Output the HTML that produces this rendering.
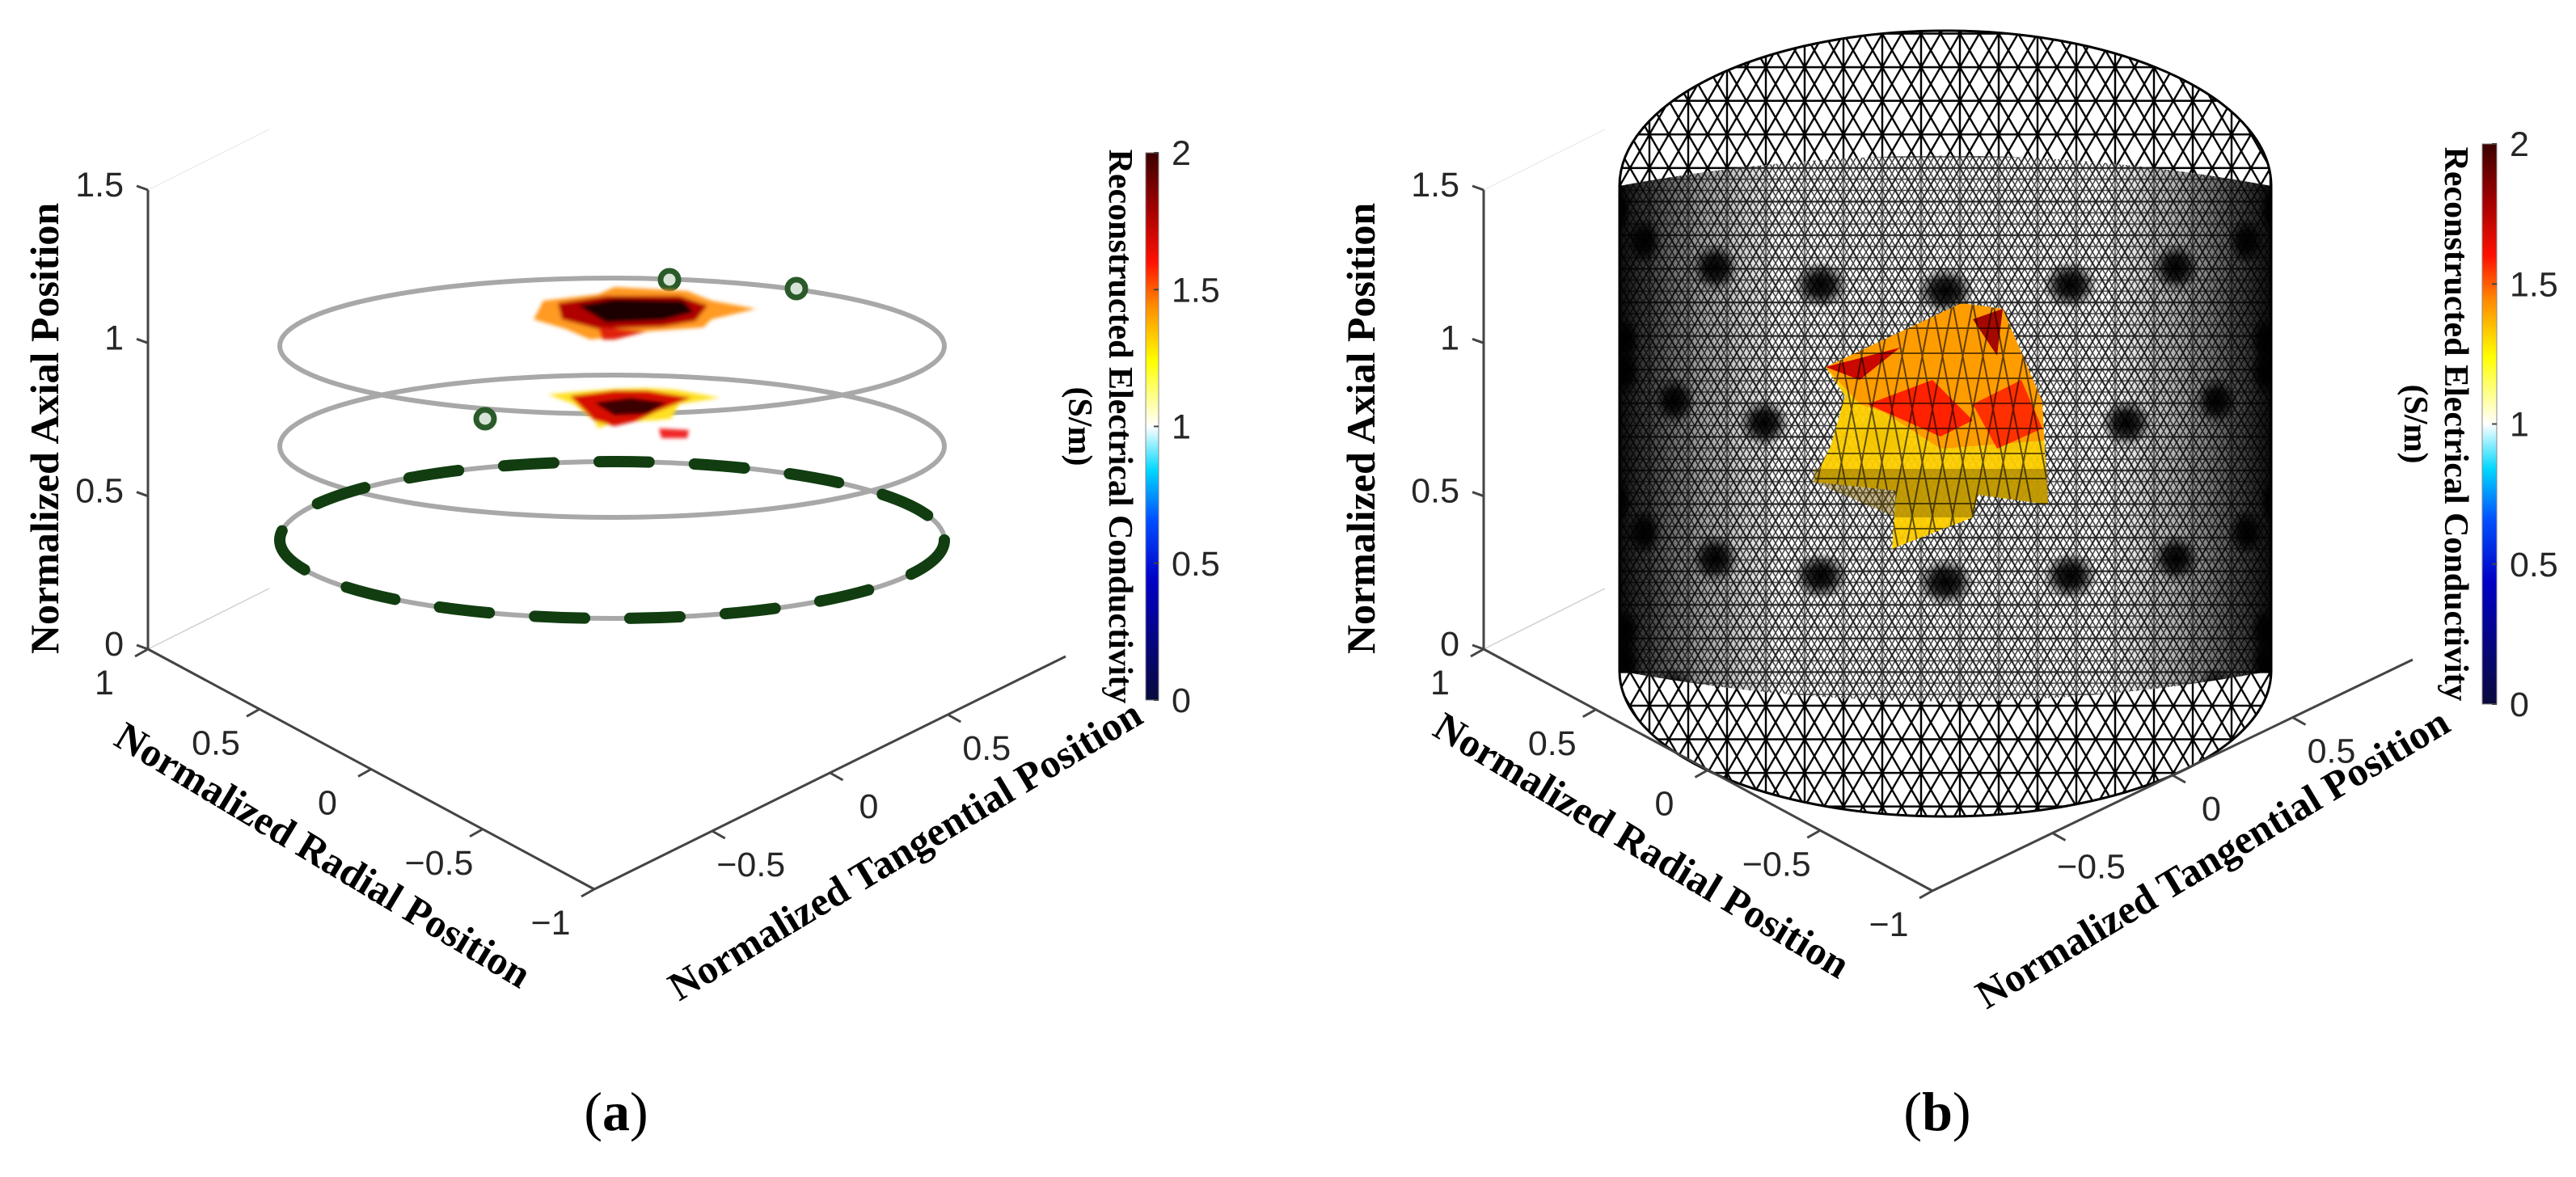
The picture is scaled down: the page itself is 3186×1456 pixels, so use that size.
<!DOCTYPE html>
<html><head><meta charset="utf-8"><style>
html,body{margin:0;padding:0;background:#fff}
svg{display:block}
.tk{font-family:"Liberation Sans",Arial,sans-serif;font-size:43px;fill:#262626}
.tt{font-family:"Liberation Serif","Times New Roman",serif;font-size:50px;font-weight:bold;fill:#000}
</style></head><body>
<svg id="fig" width="3186" height="1456" viewBox="0 0 3186 1456" xmlns="http://www.w3.org/2000/svg">
<defs>
<linearGradient id="cmap" x1="0" y1="1" x2="0" y2="0">
<stop offset="0" stop-color="#0a0a3c"/><stop offset="0.22" stop-color="#0000c8"/><stop offset="0.33" stop-color="#0050ff"/><stop offset="0.42" stop-color="#00d8ff"/><stop offset="0.5" stop-color="#ffffff"/><stop offset="0.62" stop-color="#ffff00"/><stop offset="0.72" stop-color="#ff8c00"/><stop offset="0.8" stop-color="#ff1000"/><stop offset="0.9" stop-color="#a00000"/><stop offset="1" stop-color="#3a0000"/>
</linearGradient>
<radialGradient id="dot"><stop offset="0" stop-color="#000" stop-opacity="1"/><stop offset="0.45" stop-color="#000" stop-opacity="0.85"/><stop offset="1" stop-color="#000" stop-opacity="0"/></radialGradient>
<filter id="blur"><feGaussianBlur stdDeviation="2.5"/></filter>
<pattern id="coarse" width="48" height="83.14" patternUnits="userSpaceOnUse">
<path d="M0 0H48M0 41.57H48M0 83.14H48M0 0L48 83.14M48 0L0 83.14M24 0L0 41.57L24 83.14M24 0L48 41.57L24 83.14M24 0V83.14" stroke="#000" stroke-width="2.4" fill="none"/>
</pattern>
<pattern id="fine" width="16" height="27.71" patternUnits="userSpaceOnUse">
<path d="M0 0H16M0 13.86H16M0 27.71H16M0 0L16 27.71M16 0L0 27.71M8 0L0 13.86L8 27.71M8 0L16 13.86L8 27.71" stroke="#000" stroke-width="1.5" fill="none"/>
</pattern>
</defs>
<g id="pa"></g>
<g id="pb"></g>
</svg>
<script>
const axialTicks=[0,0.5,1,1.5];
const axialLabels=["0","0.5","1","1.5"];
const radialTicks=[1,0.5,0,-0.5,-1];
const radialLabels=["1","0.5","0","\u22120.5","\u22121"];
const tangTicks=[-0.5,0,0.5];
const tangLabels=["\u22120.5","0","0.5"];
const cbTicks=[0,0.5,1,1.5,2];
const cbLabels=["0","0.5","1","1.5","2"];

const NS="http://www.w3.org/2000/svg";
function mk(p,t,a,txt){const e=document.createElementNS(NS,t);for(const k in a)e.setAttribute(k,a[k]);if(txt!==undefined)e.textContent=txt;p.appendChild(e);return e;}

function axes(g,ox,oy,cfg){
  const zy=v=>oy-(v/1.5)*cfg.zh;
  mk(g,'line',{x1:ox,y1:zy(0),x2:ox+cfg.bx,y2:zy(0)-cfg.by,stroke:'#d0d0d0','stroke-width':1.5});
  mk(g,'line',{x1:ox,y1:zy(1.5),x2:ox+cfg.bx,y2:zy(1.5)-cfg.by,stroke:'#eee','stroke-width':1.5});
  let l=mk(g,'line',{x1:ox,y1:zy(0),x2:ox,y2:zy(1.5),stroke:'#444','stroke-width':3});
  
  axialTicks.forEach((v,i)=>{
    mk(g,'line',{x1:ox-14,y1:zy(v)-5,x2:ox,y2:zy(v),stroke:'#444','stroke-width':3});
    const t=mk(g,'text',{x:ox-30,y:zy(v)+8,'text-anchor':'end',class:'tk'},axialLabels[i]);
    
  });
  const [rx2,ry2]=cfg.rEnd;
  const rp=v=>[ox+(1-v)/2*(rx2-ox),oy+(1-v)/2*(ry2-oy)];
  l=mk(g,'line',{x1:ox,y1:oy,x2:rx2,y2:ry2,stroke:'#444','stroke-width':3});
  
  radialTicks.forEach((v,i)=>{const [x,y]=rp(v);
    mk(g,'line',{x1:x,y1:y,x2:x-16,y2:y+9,stroke:'#444','stroke-width':3});
    const t=mk(g,'text',{x:x-54,y:y+56,'text-anchor':'middle',class:'tk'},radialLabels[i]);
    });
  const [tx2,ty2]=cfg.tEnd;
  const tp=v=>[rx2+(v+1)/2*(tx2-rx2),ry2+(v+1)/2*(ty2-ry2)];
  l=mk(g,'line',{x1:rx2,y1:ry2,x2:tx2,y2:ty2,stroke:'#444','stroke-width':3});
  
  tangTicks.forEach((v,i)=>{const [x,y]=tp(v);
    mk(g,'line',{x1:x,y1:y,x2:x+16,y2:y+9,stroke:'#444','stroke-width':3});
    const t=mk(g,'text',{x:x+48,y:y+56,'text-anchor':'middle',class:'tk'},tangLabels[i]);
    });
  let t=mk(g,'text',{x:0,y:0,'text-anchor':'middle',class:'tt',transform:`translate(${cfg.axT[0]},${cfg.axT[1]}) rotate(-90)`},'Normalized Axial Position');
  
  t=mk(g,'text',{x:0,y:0,'text-anchor':'middle',class:'tt',transform:`translate(${cfg.raT[0]},${cfg.raT[1]}) rotate(31)`},'Normalized Radial Position');
  
  t=mk(g,'text',{x:0,y:0,'text-anchor':'middle',class:'tt',transform:`translate(${cfg.taT[0]},${cfg.taT[1]}) rotate(-31)`},'Normalized Tangential Position');
  
  const cb=cfg.cb;
  const r=mk(g,'rect',{x:cb.x,y:cb.y0,width:cb.w,height:cb.y1-cb.y0,fill:'url(#cmap)',stroke:'#888','stroke-width':1});
  
  const cy=v=>cb.y1-(v/2)*(cb.y1-cb.y0);
  cbTicks.forEach((v,i)=>{
    mk(g,'line',{x1:cb.x+cb.w-6,y1:cy(v),x2:cb.x+cb.w,y2:cy(v),stroke:'#444','stroke-width':2});
    const t=mk(g,'text',{x:cb.x+cb.w+16,y:cy(v)+15,class:'tk'},cbLabels[i]);
    });
  const midy=(cb.y0+cb.y1)/2;
  t=mk(g,'text',{x:0,y:0,'text-anchor':'middle',class:'tt',style:'font-size:42px',transform:`translate(${cb.tx},${midy}) rotate(90)`},'Reconstructed Electrical Conductivity');
  
  t=mk(g,'text',{x:0,y:0,'text-anchor':'middle',class:'tt',style:'font-size:42px',transform:`translate(${cb.tx-50},${midy}) rotate(90)`},'(S/m)');
  
  t=mk(g,'text',{x:cfg.cap[0],y:cfg.cap[1],'text-anchor':'middle',style:'font-family:"Liberation Serif",serif;font-size:68px;fill:#000'},'');
  mk(t,'tspan',{},'(');mk(t,'tspan',{'font-weight':'bold'},cfg.capL);mk(t,'tspan',{},')');
  
}

/* ---------- Panel A ---------- */
const A=document.getElementById('pa');
const acx=757, arx=411;
const rings=[{cy:428,ry:84},{cy:552,ry:88},{cy:668,ry:97}];
rings.forEach((rg,i)=>{
  const e=mk(A,'ellipse',{cx:acx,cy:rg.cy,rx:arx,ry:rg.ry,fill:'none',stroke:'#a8a8a8','stroke-width':6});
  
});
const de=mk(A,'ellipse',{cx:acx,cy:668,rx:arx,ry:97,fill:'none',stroke:'#113d11','stroke-width':14,'stroke-dasharray':'62 56','stroke-linecap':'round'});

[[828,346],[985,357],[600,518]].forEach(p=>{
  const c=mk(A,'circle',{cx:p[0],cy:p[1],r:11,fill:'#d8e3d8',stroke:'#2a5a2a','stroke-width':7});
  
});
const bl=mk(A,'g',{filter:'url(#blur)'});
mk(bl,'polygon',{points:'660,395 672,372 740,364 760,355 850,360 880,372 935,382 880,395 870,405 800,410 760,408 750,418 730,420 700,407',fill:'#ff9a20'});
mk(bl,'polygon',{points:'690,375 750,366 840,366 875,378 860,397 820,404 740,407 695,395',fill:'#b00000'});
mk(bl,'polygon',{points:'715,378 760,370 845,372 858,386 820,396 750,399',fill:'#1a0000'});
mk(bl,'polygon',{points:'740,405 800,410 760,420 745,420',fill:'#e02010'});
mk(bl,'polygon',{points:'678,488 720,484 760,481 800,480 835,482 890,492 840,500 830,518 810,520 760,522 740,530 735,520 710,500',fill:'#ffe020'});
mk(bl,'polygon',{points:'705,490 760,483 800,483 855,492 810,510 790,520 760,527 735,520',fill:'#d81000'});
mk(bl,'polygon',{points:'735,498 780,492 825,498 800,512 760,514',fill:'#3a0000'});
mk(bl,'polygon',{points:'815,530 852,532 850,542 818,542',fill:'#f02828'});

axes(A,183,803,{zh:568,bx:150,by:75,rEnd:[735,1100],tEnd:[1318,812],
  axT:[72,530],raT:[391,1072],taT:[1128,1066],
  cb:{x:1417,w:16,y0:189,y1:866,tx:1372},cap:[762,1398],capL:'a'});

/* ---------- Panel B ---------- */
const B=document.getElementById('pb');
const bcx=2406, brx=403, byt=230, byb=830, bryT=192, bryB=180;
const cyl=mk(B,'g',{});
const sil=`M${bcx-brx} ${byt} A${brx} ${bryT} 0 0 1 ${bcx+brx} ${byt} L${bcx+brx} ${byb} A${brx} ${bryB} 0 0 1 ${bcx-brx} ${byb} Z`;
const cpS=mk(B,'clipPath',{id:'sil'});mk(cpS,'path',{d:sil});
const inner=`M${bcx-brx} ${byt} Q${bcx} ${byt-75} ${bcx+brx} ${byt} L${bcx+brx} ${byb} Q${bcx} ${byb+75} ${bcx-brx} ${byb} Z`;
const cpI=mk(B,'clipPath',{id:'inner'});mk(cpI,'path',{d:inner});
mk(cyl,'rect',{x:bcx-brx,y:0,width:2*brx,height:1100,fill:'url(#coarse)','clip-path':'url(#sil)'});
const dense=mk(cyl,'g',{'clip-path':'url(#inner)'});
mk(dense,'rect',{x:bcx-brx,y:150,width:2*brx,height:820,fill:'#fff'});
mk(dense,'rect',{x:bcx-brx,y:150,width:2*brx,height:820,fill:'url(#fine)','fill-opacity':0.75});
mk(dense,'rect',{x:bcx-brx,y:150,width:2*brx,height:820,fill:'url(#coarse)','fill-opacity':0.5});
const sg=mk(dense,'linearGradient',{id:'sideg',x1:'0',x2:'1',y1:'0',y2:'0'});
mk(sg,'stop',{offset:'0','stop-color':'#000','stop-opacity':'0.95'});
mk(sg,'stop',{offset:'0.12','stop-color':'#000','stop-opacity':'0.4'});
mk(sg,'stop',{offset:'0.25','stop-color':'#000','stop-opacity':'0'});
mk(sg,'stop',{offset:'0.75','stop-color':'#000','stop-opacity':'0'});
mk(sg,'stop',{offset:'0.88','stop-color':'#000','stop-opacity':'0.4'});
mk(sg,'stop',{offset:'1','stop-color':'#000','stop-opacity':'0.95'});
mk(dense,'rect',{x:bcx-brx,y:150,width:2*brx,height:820,fill:'url(#sideg)'});
const P=(th,h)=>[bcx+brx*Math.sin(th), byt+h*(byb-byt)+100*Math.cos(th)];
[0.0,0.3,0.6,0.9].forEach((h,k)=>{for(let i=0;i<16;i++){const th=2*Math.PI*i/16+(k%2)*Math.PI/16;if(Math.cos(th)<-0.2)continue;const p=P(th,h+0.05);
  const w=Math.abs(Math.cos(th));mk(dense,'ellipse',{cx:p[0],cy:p[1],rx:14+22*w,ry:30,fill:'url(#dot)'});}});
mk(cyl,'path',{d:sil,fill:'none',stroke:'#000','stroke-width':3});
const pg=mk(B,'g',{'fill-opacity':0.95});
const patchPts='2258,454 2426,375 2477,382 2526,497 2533,624 2446,612 2440,640 2340,679 2345,607 2243,596 2264,552 2282,490';
mk(pg,'polygon',{points:patchPts,fill:'#ffd000'});
mk(pg,'polygon',{points:'2258,454 2426,375 2477,382 2526,497 2528,545 2400,555 2330,510 2300,500',fill:'#ff9a00'});
mk(pg,'polygon',{points:'2258,454 2350,430 2300,470',fill:'#c80000'});
mk(pg,'polygon',{points:'2310,500 2390,470 2440,520 2400,540',fill:'#ff1a00'});
mk(pg,'polygon',{points:'2440,395 2477,382 2470,440',fill:'#a00000'});
mk(pg,'polygon',{points:'2440,500 2500,470 2526,530 2470,555',fill:'#ff2a00'});
mk(pg,'polygon',{points:'2243,580 2533,580 2533,624 2446,612 2440,640 2345,640 2243,596',fill:'#7a5a00','fill-opacity':0.45});
const cp=mk(B,'clipPath',{id:'pc'});mk(cp,'polygon',{points:patchPts});
let dp='';for(let j=0;j<=10;j++){const y=375+j*31;dp+=`M2240 ${y}L2535 ${y}`;}
for(let i=0;i<=12;i++){const x=2240+i*25;dp+=`M${x} 375L${x+60} 690M${x} 375L${x-60} 690`;}
mk(pg,'path',{d:dp,stroke:'#000','stroke-width':2,'stroke-opacity':0.6,fill:'none','clip-path':'url(#pc)'});

axes(B,1835,803,{zh:568,bx:150,by:75,rEnd:[2390,1102],tEnd:[2984,816],
  axT:[1700,530],raT:[2022,1060],taT:[2745,1076],
  cb:{x:3070,w:18,y0:178,y1:871,tx:3024},cap:[2396,1398],capL:'b'});
</script>
</body></html>
